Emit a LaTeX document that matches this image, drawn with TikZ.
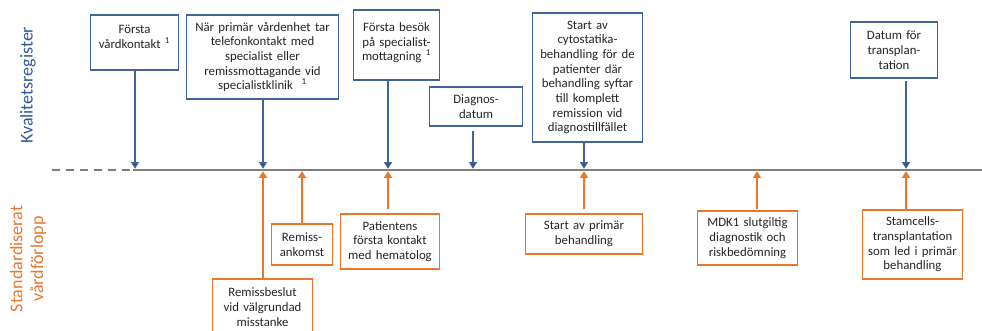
\documentclass[tikz,border=0pt]{standalone}
\usepackage{fontspec}
\setmainfont{Carlito}
\usetikzlibrary{arrows.meta}

\definecolor{kvblue}{HTML}{2F5A9A}
\definecolor{kvline}{HTML}{42639B}
\definecolor{kvtip}{HTML}{1F4579}
\definecolor{svforange}{HTML}{E9772E}
\definecolor{axisgray}{HTML}{7F7F7F}

\begin{document}
\begin{tikzpicture}[x=0.75pt,y=-0.75pt,
  font=\fontsize{9.6}{11}\selectfont,
  qbox/.style 2 args={draw=kvline,thick,fill=white,text=black!85,align=center,
    text width=#1*0.75pt-4pt,minimum height=#2*0.75pt,inner sep=1pt},
  sbox/.style 2 args={draw=svforange,thick,fill=white,text=black!85,align=center,
    text width=#1*0.75pt-4pt,minimum height=#2*0.75pt,inner sep=1pt},
  qarrow/.style={draw=kvline,line width=1.1pt,-{Triangle[width=6pt,length=5pt,fill=kvtip]},shorten >=0.9pt},
  sarrow/.style={draw=svforange,line width=1.1pt,-{Triangle[width=6pt,length=5pt]},shorten >=0.9pt},
  axis/.style={draw=axisgray,line width=1.9pt}]

\useasboundingbox (0,0) rectangle (982,331);
\clip (0,0) rectangle (982,331);

\pgfmathsetmacro{\liney}{170};

% tidslinje
\coordinate (start) at (52,\liney);
\coordinate (mid) at (133,\liney);
\coordinate (end) at (982,\liney);
\draw[axis,dash pattern=on 6pt off 4.5pt] (start) -- (mid);
\draw[axis] (mid) -- (end);

% rubriker
\node[rotate=90,text=kvblue,font=\fontsize{13.5}{16}\selectfont] (kvreg) at (28,85) {Kvalitetsregister};
\node[rotate=90,text=svforange,align=center,font=\fontsize{13.5}{15.5}\selectfont] (svf) at (28,259) {Standardiserat\\vårdförlopp};

% punkter på linjen
\coordinate (t1) at (135,\liney);
\coordinate (t2) at (263,\liney);
\coordinate (t3) at (302,\liney);
\coordinate (t4) at (388,\liney);
\coordinate (t5) at (473,\liney);
\coordinate (t6) at (584,\liney);
\coordinate (t7) at (757,\liney);
\coordinate (t8) at (906,\liney);

% kvalitetsregister
\node[qbox={91}{55}] (q1) at (134.5,42.5) {Första\\vårdkontakt \textsuperscript{1}\\[-2pt]\mbox{}};
\node[qbox={155}{84}] (q2) at (262.5,57) {När primär vårdenhet tar\\telefonkontakt med\\specialist eller\\remissmottagande vid\\specialistklinik \ \textsuperscript{1}};
\node[qbox={89}{70}] (q3) at (396.5,45) {Första besök\\på specialist-\\mottagning \textsuperscript{1}\\[-6pt]\mbox{}};
\node[qbox={96}{39}] (q4) at (476,106.5) {Diagnos-\\datum};
\node[qbox={113}{129}] (q5) at (587.5,77.5) {Start av\\cytostatika-\\behandling för de\\patienter där\\behandling syftar\\till komplett\\remission vid\\diagnostillfället};
\node[qbox={90}{56}] (q6) at (894,50) {Datum för\\transplan-\\tation};

\draw[qarrow] (q1.south -| t1) -- (t1);
\draw[qarrow] (q2.south -| t2) -- (t2);
\draw[qarrow] (q3.south -| t4) -- (t4);
\draw[qarrow,shorten <=3pt] (q4.south -| t5) -- (t5);
\draw[qarrow] (q5.south -| t6) -- (t6);
\draw[qarrow,shorten <=2pt] (q6.south -| t8) -- (t8);

% standardiserat vårdförlopp
\node[sbox={103}{56}] (s1) at (262.5,307) {Remissbeslut\\vid välgrundad\\misstanke};
\node[sbox={64}{41}] (s2) at (302,244.5) {Remiss-\\ankomst};
\node[sbox={102}{55}] (s3) at (390,241.5) {Patientens\\första kontakt\\med hematolog};
\node[sbox={120}{40}] (s4) at (584,234) {Start av primär\\behandling};
\node[sbox={103}{54}] (s5) at (747.5,238) {MDK1 slutgiltig\\diagnostik och\\riskbedömning};
\node[sbox={103}{69}] (s6) at (912.5,244.5) {Stamcells-\\transplantation\\som led i primär\\behandling};

\draw[sarrow] (s1.north -| t2) -- (t2);
\draw[sarrow] (s2.north -| t3) -- (t3);
\draw[sarrow,shorten <=3pt] (s3.north -| t4) -- (t4);
\draw[sarrow,shorten <=3pt] (s4.north -| t6) -- (t6);
\draw[sarrow,shorten <=1pt] (s5.north -| t7) -- (t7);
\draw[sarrow] (s6.north -| t8) -- (t8);

\end{tikzpicture}
\end{document}
